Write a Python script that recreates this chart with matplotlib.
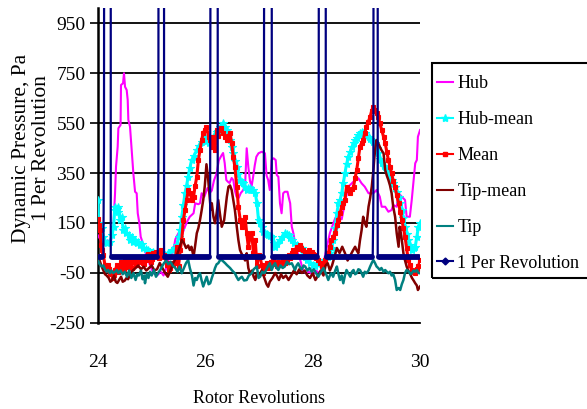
import matplotlib
matplotlib.use("Agg")
import matplotlib.pyplot as plt
from matplotlib.lines import Line2D
from matplotlib.patches import Rectangle

plt.rcParams['font.family'] = ['Liberation Serif', 'DejaVu Serif']
plt.rcParams['axes.unicode_minus'] = False

# ---------------- data ----------------
hub_rev = [24.00, 24.04, 24.08, 24.13, 24.18, 24.24, 24.285, 24.317, 24.335, 24.366, 24.379, 24.42, 24.428,
           24.466, 24.484, 24.503, 24.534, 24.553, 24.565, 24.596, 24.627, 24.658, 24.69, 24.72, 24.74, 24.77,
           24.795, 24.826, 24.87, 24.92, 24.97, 25.03, 25.10, 25.17, 25.22, 25.27, 25.33, 25.40, 25.44, 25.50,
           25.56, 25.62, 25.67, 25.71, 25.78, 25.81, 25.87, 25.90, 25.93, 25.98, 26.04, 26.08, 26.12, 26.16,
           26.21, 26.25, 26.30, 26.33, 26.36, 26.39, 26.42, 26.45, 26.49, 26.52, 26.55, 26.58, 26.62, 26.66,
           26.70, 26.74, 26.77, 26.80, 26.83, 26.86, 26.89, 26.92, 26.95, 26.99, 27.05, 27.11, 27.14, 27.17,
           27.20, 27.235, 27.27, 27.31, 27.33, 27.36, 27.39, 27.42, 27.45, 27.48, 27.53, 27.55, 27.58, 27.61,
           27.64, 27.68, 27.72, 27.77, 27.82, 27.87, 27.93, 28.00, 28.06, 28.12, 28.17, 28.22, 28.27, 28.32,
           28.37, 28.42, 28.48, 28.54, 28.60, 28.66, 28.73, 28.79, 28.85, 28.91, 28.97, 29.04, 29.13, 29.19,
           29.25, 29.285, 29.35, 29.41, 29.47, 29.50, 29.565, 29.60, 29.66, 29.72, 29.75, 29.81, 29.845, 29.91,
           29.94, 29.96, 30.00]
hub_val = [100, 85, 70, 69, 80, 75, 135, 269, 375, 455, 529, 542, 702,
           709, 749, 695, 682, 642, 562, 535, 442, 349, 275, 269, 189, 149,
           95, 75, 40, 10, -20, -50, -60, -45, -60, -30, 20, 35, 85, 110,
           100, 135, 160, 175, 189, 229, 225, 229, 269, 255, 290, 270, 280, 320,
           349, 400, 420, 430, 390, 322, 315, 310, 330, 322, 280, 255, 250, 270,
           280, 300, 449, 375, 320, 295, 335, 380, 415, 429, 435, 429, 340, 322,
           282, 402, 409, 402, 342, 335, 229, 189, 269, 275, 275, 255, 229, 135,
           109, 60, 30, 0, -40, -50, -45, -55, -40, -50, -35, 10, 60, 110,
           140, 170, 175, 165, 230, 295, 309, 322, 329, 309, 295, 269, 269, 282,
           255, 215, 215, 195, 202, 222, 215, 269, 255, 242, 175, 175, 242, 389,
           402, 495, 522]

hubmean_rev = [24.00, 24.01, 24.04, 24.07, 24.10, 24.13, 24.16, 24.22, 24.26, 24.29, 24.31, 24.32, 24.35, 24.37,
               24.38, 24.41, 24.44, 24.47, 24.50, 24.53, 24.57, 24.60, 24.63, 24.66, 24.69, 24.72, 24.75, 24.78,
               24.81, 24.845, 24.90, 24.94, 24.98, 25.03, 25.07, 25.12, 25.18, 25.25, 25.30, 25.37, 25.43, 25.47,
               25.50, 25.53, 25.56, 25.59, 25.62, 25.65, 25.68, 25.71, 25.745, 25.79, 25.84, 25.88, 25.93, 25.99,
               26.03, 26.06, 26.09, 26.12, 26.16, 26.21, 26.24, 26.27, 26.31, 26.335, 26.37, 26.40, 26.43, 26.46,
               26.49, 26.52, 26.55, 26.58, 26.615, 26.65, 26.68, 26.71, 26.74, 26.77, 26.80, 26.83, 26.86, 26.895,
               26.93, 26.96, 26.99, 27.02, 27.05, 27.08, 27.11, 27.14, 27.17, 27.20, 27.235, 27.27, 27.30, 27.34,
               27.39, 27.43, 27.48, 27.52, 27.55, 27.58, 27.61, 27.65, 27.70, 27.75, 27.795, 27.83, 27.86, 27.90,
               27.95, 28.00, 28.04, 28.09, 28.14, 28.19, 28.23, 28.28, 28.32, 28.355, 28.385, 28.416, 28.45, 28.48,
               28.51, 28.54, 28.57, 28.60, 28.63, 28.665, 28.70, 28.73, 28.76, 28.79, 28.82, 28.85, 28.88, 28.91,
               28.94, 28.975, 29.00, 29.04, 29.07, 29.10, 29.13, 29.16, 29.19, 29.22, 29.25, 29.285, 29.32, 29.35,
               29.38, 29.41, 29.44, 29.47, 29.50, 29.535, 29.565, 29.60, 29.63, 29.66, 29.69, 29.72, 29.75, 29.78,
               29.81, 29.845, 29.88, 29.91, 29.94, 29.97, 30.00]
hubmean_val = [240, 150, 140, 130, 95, 75, 69, 75, 100, 135, 200, 215, 205, 215,
               195, 162, 175, 122, 130, 109, 100, 82, 95, 75, 80, 69, 75, 62,
               65, 49, 45, 42, 30, 35, 25, 29, 20, 22, 30, 42, 50, 60,
               95, 120, 175, 220, 269, 300, 335, 370, 402, 420, 442, 460, 475, 495,
               480, 469, 475, 482, 500, 515, 520, 535, 540, 549, 535, 522, 500, 482,
               455, 429, 400, 375, 345, 322, 315, 309, 295, 282, 290, 289, 280, 282,
               270, 230, 162, 150, 135, 115, 109, 105, 102, 98, 95, 70, 55, 65,
               82, 95, 109, 105, 102, 90, 82, 70, 62, 55, 49, 30, 15, 0,
               -11, -20, -24, -15, -11, -5, 2, 15, 29, 50, 82, 130, 189, 229,
               242, 269, 310, 349, 385, 415, 435, 455, 470, 482, 492, 502, 510, 515,
               512, 509, 500, 495, 488, 482, 475, 469, 450, 429, 405, 389, 380, 375,
               365, 355, 340, 322, 310, 295, 275, 255, 230, 202, 170, 135, 105, 82,
               60, 42, 48, 55, 95, 135, 149]

mean_rev = [24.00, 24.02, 24.04, 24.06, 24.08, 24.10, 24.13, 24.16, 24.18, 24.20, 24.23, 24.25, 24.28, 24.30,
            24.32, 24.35, 24.38, 24.40, 24.43, 24.45, 24.48, 24.50, 24.53, 24.55, 24.58, 24.60, 24.63, 24.65,
            24.68, 24.70, 24.73, 24.75, 24.78, 24.80, 24.83, 24.85, 24.88, 24.90, 24.93, 24.95, 24.98, 25.00,
            25.03, 25.05, 25.08, 25.10, 25.13, 25.15, 25.18, 25.20, 25.23, 25.25, 25.28, 25.30, 25.33, 25.35,
            25.38, 25.40, 25.435, 25.465, 25.50, 25.53, 25.56, 25.59, 25.62, 25.65, 25.68, 25.715, 25.75, 25.78,
            25.81, 25.84, 25.87, 25.90, 25.93, 25.96, 25.99, 26.02, 26.06, 26.09, 26.12, 26.15, 26.18, 26.21,
            26.24, 26.27, 26.30, 26.335, 26.37, 26.40, 26.43, 26.46, 26.49, 26.52, 26.55, 26.585, 26.615, 26.65,
            26.68, 26.71, 26.74, 26.77, 26.80, 26.83, 26.865, 26.895, 26.93, 26.96, 26.99, 27.02, 27.05, 27.08,
            27.11, 27.14, 27.17, 27.20, 27.23, 27.265, 27.30, 27.33, 27.36, 27.39, 27.42, 27.45, 27.48, 27.515,
            27.55, 27.58, 27.61, 27.64, 27.67, 27.70, 27.73, 27.76, 27.79, 27.825, 27.86, 27.89, 27.93, 27.98,
            28.01, 28.04, 28.07, 28.105, 28.14, 28.17, 28.20, 28.23, 28.26, 28.29, 28.32, 28.35, 28.385, 28.416,
            28.45, 28.48, 28.51, 28.54, 28.57, 28.60, 28.63, 28.665, 28.70, 28.73, 28.76, 28.79, 28.82, 28.85,
            28.88, 28.91, 28.94, 28.97, 29.00, 29.035, 29.07, 29.10, 29.13, 29.16, 29.19, 29.22, 29.25, 29.285,
            29.32, 29.35, 29.38, 29.41, 29.44, 29.47, 29.50, 29.535, 29.565, 29.60, 29.63, 29.66, 29.69, 29.72,
            29.75, 29.78, 29.81, 29.845, 29.88, 29.91, 29.94, 29.97, 30.00]
mean_val = [165, 140, 120, 60, 40, 20, -20, -40, -20, -35, -50, -55, -70, -60,
            -40, -20, -45, -30, -5, -10, -35, 0, -15, -25, 5, -10, -30, 5,
            -5, -20, 10, -5, 15, 10, -10, -15, 10, 0, 25, 20, -5, 5,
            30, 20, 35, 30, 10, 15, 40, 35, 20, 15, -20, -10, -40, -30,
            -10, -20, -11, 55, -24, 40, 82, 162, 200, 242, 280, 269, 240, 255,
            300, 335, 402, 442, 482, 510, 522, 535, 495, 482, 455, 495, 442, 522,
            500, 522, 529, 509, 495, 482, 500, 509, 469, 415, 375, 295, 215, 162,
            135, 150, 175, 109, 55, 90, 109, 29, 82, -24, 20, 15, -20, -51,
            -30, -11, -30, -24, -5, 2, -15, -24, -5, -20, -11, 5, -10, 2,
            20, 10, 29, 40, 35, 55, 45, 62, 50, 42, 35, 29, 40, 35,
            25, 22, 10, 2, -10, -24, -10, 2, 15, 29, 55, 82, 95, 109,
            140, 162, 190, 215, 230, 242, 295, 280, 269, 285, 295, 330, 362, 410,
            455, 470, 482, 510, 535, 555, 575, 600, 615, 602, 590, 575, 550, 522,
            495, 469, 435, 402, 375, 349, 320, 295, 260, 229, 195, 162, 130, 95,
            50, 2, -20, -38, -45, -51, -35, -24, 2]

tipmean_rev = [24.00, 24.03, 24.06, 24.10, 24.13, 24.16, 24.20, 24.23, 24.26, 24.30, 24.33, 24.36, 24.40, 24.43,
               24.46, 24.50, 24.53, 24.56, 24.60, 24.65, 24.70, 24.75, 24.80, 24.85, 24.90, 24.95, 25.00, 25.05,
               25.10, 25.15, 25.20, 25.25, 25.30, 25.35, 25.40, 25.45, 25.50, 25.53, 25.56, 25.60, 25.64, 25.68,
               25.71, 25.74, 25.78, 25.81, 25.84, 25.87, 25.90, 25.93, 25.96, 25.99, 26.02, 26.05, 26.08, 26.10,
               26.12, 26.15, 26.18, 26.21, 26.24, 26.27, 26.305, 26.35, 26.40, 26.43, 26.46, 26.49, 26.52, 26.55,
               26.585, 26.615, 26.645, 26.68, 26.71, 26.74, 26.77, 26.80, 26.83, 26.87, 26.90, 26.93, 26.96, 27.00,
               27.05, 27.10, 27.14, 27.17, 27.20, 27.25, 27.30, 27.33, 27.37, 27.41, 27.45, 27.50, 27.55, 27.60,
               27.65, 27.70, 27.75, 27.80, 27.85, 27.90, 27.95, 28.00, 28.05, 28.10, 28.15, 28.20, 28.24, 28.28,
               28.32, 28.36, 28.40, 28.45, 28.50, 28.55, 28.60, 28.65, 28.70, 28.75, 28.79, 28.82, 28.85, 28.88,
               28.91, 28.94, 28.97, 29.00, 29.04, 29.07, 29.10, 29.13, 29.15, 29.17, 29.19, 29.22, 29.25, 29.285,
               29.32, 29.35, 29.38, 29.41, 29.44, 29.47, 29.50, 29.535, 29.565, 29.60, 29.62, 29.65, 29.69, 29.72,
               29.75, 29.78, 29.81, 29.85, 29.88, 29.91, 29.94, 29.96, 30.00]
tipmean_val = [20, 0, -20, -40, -55, -60, -70, -85, -80, -60, -85, -90, -75, -65,
               -85, -80, -70, -75, -55, -40, -30, -20, -35, -25, -40, -30, -20, -40,
               -35, -10, -30, -50, -65, -40, -10, 10, 40, 60, 82, 70, 50, 60,
               42, 55, 15, 60, 109, 130, 162, 200, 242, 300, 385, 330, 250, 202,
               229, 175, 149, 189, 242, 189, 135, 162, 255, 295, 300, 282, 242, 202,
               135, 82, 42, 25, 15, 0, 29, -30, -51, -40, -65, -78, -50, -60,
               -40, -70, -95, -105, -85, -70, -50, -60, -78, -55, -70, -60, -78, -60,
               -40, -55, -35, -50, -40, -60, -70, -50, -78, -60, -40, -60, -20, -11,
               -40, -20, 10, 50, 30, 55, 30, 0, 20, 40, 55, 40, 29, 80,
               120, 175, 150, 135, 215, 250, 295, 360, 415, 455, 482, 470, 455, 440,
               429, 362, 340, 322, 300, 269, 215, 175, 109, 55, 135, 100, 29, 0,
               -24, -40, -51, -70, -80, -91, -100, -118, -104]

tip_rev = [24.00, 24.03, 24.07, 24.10, 24.13, 24.16, 24.19, 24.22, 24.25, 24.28, 24.32, 24.35, 24.38, 24.42,
           24.46, 24.50, 24.54, 24.58, 24.62, 24.66, 24.70, 24.73, 24.76, 24.80, 24.83, 24.86, 24.875, 24.91,
           24.94, 24.97, 25.00, 25.04, 25.08, 25.12, 25.16, 25.19, 25.23, 25.27, 25.31, 25.35, 25.39, 25.44,
           25.48, 25.52, 25.56, 25.60, 25.64, 25.68, 25.71, 25.75, 25.78, 25.81, 25.84, 25.87, 25.90, 25.93,
           25.96, 25.99, 26.025, 26.06, 26.09, 26.12, 26.15, 26.18, 26.21, 26.24, 26.27, 26.305, 26.34, 26.37,
           26.40, 26.43, 26.46, 26.49, 26.52, 26.55, 26.58, 26.615, 26.65, 26.68, 26.72, 26.77, 26.81, 26.865,
           26.90, 26.96, 26.99, 27.02, 27.06, 27.10, 27.15, 27.20, 27.235, 27.27, 27.30, 27.33, 27.36, 27.40,
           27.44, 27.48, 27.52, 27.56, 27.61, 27.64, 27.67, 27.70, 27.73, 27.77, 27.80, 27.83, 27.86, 27.90,
           27.94, 27.98, 28.02, 28.06, 28.105, 28.14, 28.17, 28.20, 28.23, 28.26, 28.29, 28.32, 28.35, 28.38,
           28.42, 28.45, 28.48, 28.51, 28.54, 28.57, 28.60, 28.63, 28.66, 28.70, 28.73, 28.76, 28.79, 28.82,
           28.85, 28.88, 28.91, 28.94, 28.97, 29.00, 29.04, 29.07, 29.10, 29.13, 29.16, 29.19, 29.22, 29.25,
           29.28, 29.32, 29.35, 29.38, 29.41, 29.44, 29.47, 29.50, 29.535, 29.565, 29.60, 29.63, 29.66, 29.69,
           29.72, 29.75, 29.79, 29.82, 29.845, 29.88, 29.91, 29.94, 29.97, 30.00]
tip_val = [0, -15, -24, -20, -35, -45, -38, -51, -40, -50, -45, -38, -51, -40,
           -55, -45, -65, -40, -70, -50, -78, -55, -60, -40, -75, -60, -91, -51,
           -70, -45, -60, -38, -65, -50, -38, -25, -10, 0, -15, -5, -20, -30,
           -45, -24, -51, -30, -10, 2, -30, -60, -100, -70, -78, -60, -51, -80,
           -104, -85, -65, -95, -91, -70, -51, -30, -15, -11, 0, 2, -5, -11,
           -18, -24, -30, -38, -45, -51, -65, -78, -70, -65, -80, -78, -60, -51,
           -35, -24, -70, -65, -45, -51, -30, -11, -38, -20, -11, -30, -38, -20,
           -30, -24, -5, -15, -11, -25, -38, -20, -11, -30, -35, -20, -24, -40,
           -30, -45, -35, -50, -65, -51, -40, -30, -45, -60, -78, -60, -51, -65,
           -40, -24, -55, -78, -60, -91, -60, -38, -50, -65, -45, -38, -55, -51,
           -35, -38, -50, -65, -45, -51, -40, -24, -10, 2, -10, -24, -30, -38,
           -30, -45, -38, -45, -51, -45, -60, -55, -78, -118, -110, -118, -95, -78,
           -50, -38, -45, -55, -51, -40, -45, -38, -50, -51]

# 1 Per Revolution: baseline level, pulse edges (pulse goes off-scale)
rev1_base = 12
rev1_high = 3000
rev1_rise = [24.099, 25.112, 26.087, 27.087, 28.099, 29.118]
rev1_fall = [24.237, 25.230, 26.230, 27.237, 28.243, 29.211]
rev1_knee = [450, 365, None, None, 350, 260]   # intermediate value on rising edge

series_labels = ["Hub", "Hub-mean", "Mean", "Tip-mean", "Tip", "1 Per Revolution"]
x_limits = (24, 30)
x_ticks = [24, 26, 28, 30]
y_limits = (-250, 1010)
y_ticks = [-250, -50, 150, 350, 550, 750, 950]

# ---------------- figure ----------------
W, H = 587, 409
fig = plt.figure(figsize=(W / 100, H / 100), dpi=100)
ax = fig.add_axes([0.167, 0.2103, 0.5486, 0.7701])

c_hub, c_hubm, c_mean, c_tipm, c_tip, c_rev = '#FF00FF', '#00FFFF', '#FF0000', '#800000', '#008080', '#000080'

ax.plot(hub_rev, hub_val, color=c_hub, lw=1.5, zorder=3)
ax.plot(hubmean_rev, hubmean_val, color=c_hubm, lw=2.2, marker='*', ms=6, mew=0.8, zorder=4)
ax.plot(mean_rev, mean_val, color=c_mean, lw=2.2, marker='s', ms=3.5, mew=0.8, zorder=5)
ax.plot(tipmean_rev, tipmean_val, color=c_tipm, lw=1.8, zorder=6)
ax.plot(tip_rev, tip_val, color=c_tip, lw=1.8, zorder=7)

# build the 1 Per Revolution trace from edges
px, py = [x_limits[0]], [rev1_base]
for r, f, k in zip(rev1_rise, rev1_fall, rev1_knee):
    px.append(r); py.append(rev1_base)
    if k is not None:
        px.append(r + 0.012); py.append(k)
    px.append(r + 0.02); py.append(rev1_high)
    px.append(f); py.append(rev1_high)
    px.append(f); py.append(rev1_base)
px.append(x_limits[1]); py.append(rev1_base)
ax.plot(px, py, color=c_rev, lw=1.6, zorder=8)
# thick baseline (chain of diamond markers in the original)
starts = [x_limits[0]] + rev1_fall
ends = rev1_rise + [x_limits[1]]
for s, e in zip(starts, ends):
    ax.plot([s + 0.02, e - 0.02], [rev1_base, rev1_base], color=c_rev, lw=4.2,
            solid_capstyle='round', zorder=8)

ax.set_xlim(*x_limits)
ax.set_ylim(*y_limits)
ax.set_xticks(x_ticks)
ax.set_yticks(y_ticks)
ax.tick_params(axis='x', length=0, pad=22, labelsize=14)
ax.tick_params(axis='y', length=6, width=1.2, pad=3, labelsize=14, direction='out')
ax.yaxis.grid(True, color='black', lw=1.3, zorder=1)
ax.set_axisbelow(True)
for s in ['top', 'right']:
    ax.spines[s].set_visible(False)
ax.spines['left'].set_linewidth(1.8)
ax.spines['bottom'].set_linewidth(1.3)

ax.set_xlabel("Rotor Revolutions", fontsize=13, labelpad=14)
ax.set_ylabel("Dynamic Pressure, Pa\n1 Per Revolution", fontsize=15.5, linespacing=1.05)
ax.yaxis.set_label_coords(-0.146, 0.554)

handles = [
    Line2D([], [], color=c_hub, lw=1.5),
    Line2D([], [], color=c_hubm, lw=1.5, marker='*', ms=6),
    Line2D([], [], color=c_mean, lw=1.5, marker='s', ms=3.5),
    Line2D([], [], color=c_tipm, lw=1.5),
    Line2D([], [], color=c_tip, lw=1.5),
    Line2D([], [], color=c_rev, lw=1.5, marker='D', ms=3.5),
]
leg = fig.legend(handles, series_labels, loc='upper left',
                 bbox_to_anchor=(437 / W, 1 - 75 / H),
                 frameon=False, fontsize=13,
                 handlelength=0.9, handletextpad=0.22, labelspacing=1.05, borderpad=0,
                 borderaxespad=0)
# legend frame
fig.patches.append(Rectangle((432 / W, 1 - 278 / H), (590 - 432) / W, (278 - 63) / H,
                             transform=fig.transFigure, fill=False, edgecolor='black',
                             linewidth=1.5, zorder=10))

fig.savefig('out.png', dpi=100)
